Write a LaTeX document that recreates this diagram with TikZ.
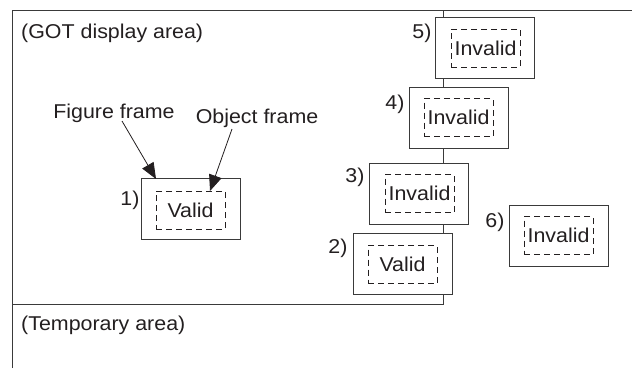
\documentclass[tikz,border=0pt]{standalone}
\usepackage{fontspec}
\setmainfont{Liberation Sans}
\newfontfamily\labelfont[FakeStretch=1.07]{Liberation Sans}
\usetikzlibrary{arrows.meta}
\definecolor{ink}{HTML}{231F20}
\definecolor{frame}{HTML}{3A3A3A}
\tikzset{
  txt/.style={inner sep=0pt, text=ink, font=\labelfont\fontsize{20}{24}\selectfont},
  outerbox/.style={draw=frame, line width=1pt, fill=white, minimum width=99pt, minimum height=61pt, inner sep=0pt},
  innerbox/.style={draw=ink, line width=1pt, dash pattern=on 6pt off 4pt, minimum width=69pt, minimum height=38pt, inner sep=0pt, text=ink, font=\labelfont\fontsize{20}{24}\selectfont},
  pointer/.style={draw=ink, line width=0.8pt, -{Triangle[length=16pt,width=13pt]}},
  areaLine/.style={draw=frame, line width=1pt}
}
\begin{document}
\begin{tikzpicture}[x=1pt,y=-1pt]
\useasboundingbox (0,0) rectangle (632,368);
% area frames
\coordinate (tl) at (12,10);
\coordinate (tr) at (632,10);
\coordinate (bl) at (12,368);
\coordinate (dtr) at (443,10);
\coordinate (dbr) at (443,304);
\coordinate (dbl) at (12,304);
\draw[areaLine] (bl) -- (tl) -- (tr);
\draw[areaLine] (dtr) -- (dbr) -- (dbl);
\node[txt, anchor=west] (got) at (21,33) {(GOT display area)};
\node[txt, anchor=west] (tmp) at (21,325) {(Temporary area)};
% box 1
\node[outerbox] (b1) at (190.5,209) {};
\node[innerbox] (i1) at (190.5,210) {Valid};
\node[txt] (n1) at (130,200) {1)};
% box 2
\node[outerbox] (b2) at (402.5,264) {};
\node[innerbox] (i2) at (402.5,264.5) {Valid};
\node[txt] (n2) at (338,248) {2)};
% box 3
\node[outerbox] (b3) at (419,193.5) {};
\node[innerbox] (i3) at (419.5,193.5) {Invalid};
\node[txt] (n3) at (355,177) {3)};
% box 4
\node[outerbox] (b4) at (458.5,118) {};
\node[innerbox] (i4) at (458.5,117.5) {Invalid};
\node[txt] (n4) at (395,104) {4)};
% box 5
\node[outerbox] (b5) at (485,48) {};
\node[innerbox] (i5) at (485.5,48) {Invalid};
\node[txt] (n5) at (422,33) {5)};
% box 6
\node[outerbox] (b6) at (558.5,235.5) {};
\node[innerbox] (i6) at (558.5,235.5) {Invalid};
\node[txt] (n6) at (495,222) {6)};
% labels and pointers
\node[txt] (ff) at (114,113) {Figure frame};
\node[txt] (of) at (257,118) {Object frame};
\coordinate (ffs) at (122,121);
\coordinate (fft) at (156,179);
\coordinate (ofs) at (232,129);
\coordinate (oft) at (210,191);
\draw[pointer] (ffs) -- (fft);
\draw[pointer] (ofs) -- (oft);
\end{tikzpicture}
\end{document}
